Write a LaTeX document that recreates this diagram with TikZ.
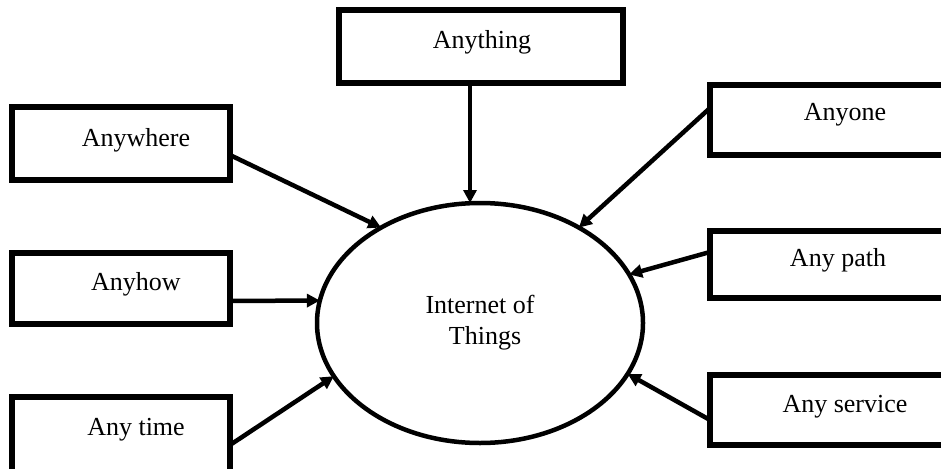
\documentclass[tikz,border=0pt]{standalone}
\usepackage{fontspec}
\setmainfont{Liberation Serif}
\usetikzlibrary{shapes.geometric,arrows.meta}
\begin{document}
\begin{tikzpicture}[x=1pt,y=-1pt,
  box/.style={draw, line width=5.5pt, rectangle, inner sep=0pt, outer sep=0pt},
  lbl/.style={anchor=base, inner sep=0pt, font=\fontsize{26}{30}\selectfont},
  arr/.style={line width=4.5pt, -{Triangle[length=13pt,width=13pt]}}]
\clip (0,0) rectangle (941,468);
\useasboundingbox (0,0) rectangle (941,468);
% boxes
\node[box, minimum width=284pt, minimum height=73pt] (thing) at (481,46.5) {};
\node[box, minimum width=218pt, minimum height=73pt] (where) at (121,143.5) {};
\node[box, minimum width=218pt, minimum height=71pt] (how) at (121,288.5) {};
\node[box, minimum width=218pt, minimum height=78pt] (time) at (121,436) {};
\node[box, minimum width=250pt, minimum height=70pt] (one) at (835,120) {};
\node[box, minimum width=250pt, minimum height=67pt] (path) at (835,264.5) {};
\node[box, minimum width=250pt, minimum height=70pt] (service) at (835,410) {};
% labels
\node[lbl] (tthing) at (482,49) {Anything};
\node[lbl] (twhere) at (136,146) {Anywhere};
\node[lbl] (thow) at (136,290) {Anyhow};
\node[lbl] (ttime) at (136,435) {Any time};
\node[lbl] (tone) at (845,121) {Anyone};
\node[lbl] (tpath) at (838,266) {Any path};
\node[lbl] (tservice) at (845,412) {Any service};
% ellipse
\node[ellipse, draw, line width=4.5pt, minimum width=326pt, minimum height=240pt, inner sep=0pt, outer sep=0pt] (iot) at (480,323) {};
\node[lbl] (t1) at (480,313) {Internet of};
\node[lbl] (t2) at (485,344) {Things};
% arrows
\draw[arr] ([xshift=-11pt]thing.south) -- ([xshift=-11pt]thing.south |- iot.north);
\draw[arr] ([yshift=-11.5pt]where.east) -- (iot.136.2);
\draw[arr] ([yshift=-12.5pt]how.east) -- (iot.172.3);
\draw[arr] ([yshift=-9pt]time.east) -- (iot.200);
\draw[arr] ([yshift=12pt]one.west) -- (iot.44.4);
\draw[arr] ([yshift=12.5pt]path.west) -- (iot.18.3);
\draw[arr] ([yshift=-10pt]service.west) -- (iot.-19.7);
\end{tikzpicture}
\end{document}
